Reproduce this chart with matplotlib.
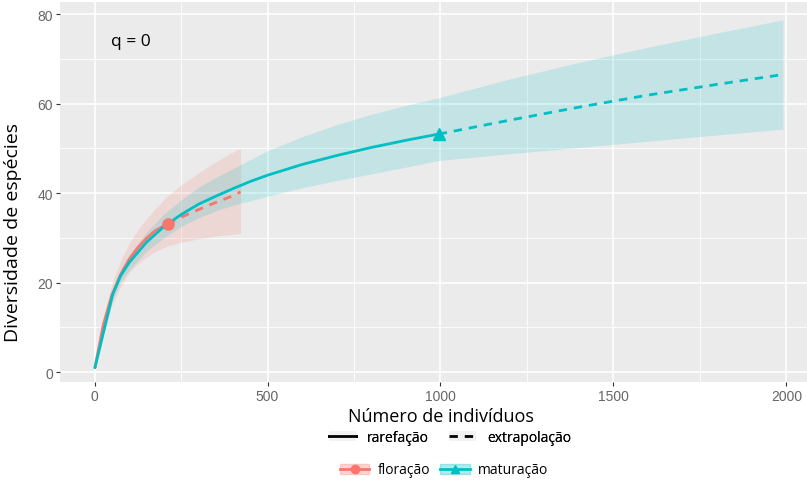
import matplotlib
matplotlib.use('Agg')
import matplotlib.pyplot as plt
from matplotlib.lines import Line2D
from matplotlib.patches import Patch

# floração: rarefaction up to the observed sample, extrapolation after it
flor_x = [1, 25, 50, 75, 100, 125, 150, 175, 211, 250, 300, 350, 400, 422]
flor_y = [1, 10.5, 17.2, 21.8, 25.2, 27.8, 29.9, 31.6, 33.1, 34.6, 36.3, 37.9, 39.4, 40.3]
flor_lo = [1, 9, 15, 19, 22.3, 24.2, 25.7, 26.9, 28.2, 29, 29.8, 30.4, 30.8, 31]
flor_hi = [1, 12.5, 19.8, 24.8, 28.8, 31.8, 34.3, 36.5, 39.4, 41.8, 44.5, 47, 49.2, 50]
flor_obs = 8  # index of observed point

# maturação
mat_x = [1, 52, 75, 100, 150, 200, 250, 300, 350, 400, 450, 500, 600, 700, 800, 900, 995,
         1200, 1400, 1600, 1800, 1990]
mat_y = [1, 17.3, 21.5, 24.5, 29, 32.5, 35.2, 37.5, 39.3, 41, 42.6, 44, 46.4, 48.4, 50.2, 51.8, 53.2,
         56.3, 59.2, 61.9, 64.3, 66.5]
mat_lo = [1, 16.1, 20.2, 22.8, 27, 30, 32.5, 34.5, 36, 37.3, 38.3, 39.3, 41.2, 42.8, 44.3, 45.8, 47.3,
          48.8, 50.2, 51.6, 53, 54.3]
mat_hi = [1, 18.5, 22.8, 26.3, 31.3, 35.3, 38.5, 41.3, 43.5, 45.5, 47.5, 49.5, 52.6, 55.3, 57.6, 59.6, 61.3,
          65.5, 69.2, 72.6, 75.8, 78.7]
mat_obs = 16

xticks = [0, 500, 1000, 1500, 2000]
yticks = [0, 20, 40, 60, 80]

red = '#F8766D'
cyan = '#00BFC4'
txt_font = ['Open Sans', 'DejaVu Sans']
tick_font = ['Liberation Sans', 'DejaVu Sans']

fig = plt.figure(figsize=(8.07, 4.81), dpi=100)
ax = fig.add_axes([60/807, 98/481, 761/807, 380/481])
ax.set_facecolor('#EBEBEB')
for s in ax.spines.values():
    s.set_visible(False)

# minor + major grid
for v in [250, 750, 1250, 1750]:
    ax.axvline(v, color='white', lw=0.6, zorder=0)
for v in [10, 30, 50, 70]:
    ax.axhline(v, color='white', lw=0.6, zorder=0)
for v in xticks:
    ax.axvline(v, color='white', lw=1.2, zorder=0)
for v in yticks:
    ax.axhline(v, color='white', lw=1.2, zorder=0)

def draw(x, y, lo, hi, k, col, mk):
    ax.fill_between(x, lo, hi, color=col, alpha=0.17, lw=0, zorder=1)
    ax.plot(x[:k+1], y[:k+1], color=col, lw=2, zorder=3, solid_capstyle='round')
    ax.plot(x[k:], y[k:], color=col, lw=2, ls=(0, (3, 2.5)), zorder=3)
    ax.plot(x[k], y[k], marker=mk, color=col, ms=8, zorder=4)

draw(flor_x, flor_y, flor_lo, flor_hi, flor_obs, red, 'o')
draw(mat_x, mat_y, mat_lo, mat_hi, mat_obs, cyan, '^')

ax.set_xlim(-100, 2100)
ax.set_ylim(-2.2, 82.7)
ax.set_xticks(xticks)
ax.set_yticks(yticks)
ax.tick_params(colors='#333333', labelcolor='#666666', labelsize=10, length=3, width=0.8, pad=2)
for lab in ax.get_xticklabels() + ax.get_yticklabels():
    lab.set_family(tick_font)

ax.text(46, 74, 'q = 0', fontsize=12.5, va='center', ha='left', family=txt_font)
ax.set_ylabel('Diversidade de espécies', fontsize=14, family=txt_font)
ax.yaxis.set_label_coords(-0.05, 0.397)
ax.set_xlabel('Número de indivíduos', fontsize=13, labelpad=3, family=txt_font)

key_bg = '#F2F2F2'
h1 = [(Patch(facecolor=key_bg, edgecolor='none'), Line2D([], [], color='black', lw=2)),
      (Patch(facecolor=key_bg, edgecolor='none'), Line2D([], [], color='black', lw=2, ls=(0, (3, 2.5))))]
leg1 = fig.legend(h1, ['rarefação', 'extrapolação'], ncol=2, frameon=False,
                  loc='center', bbox_to_anchor=(450/807, 1 - 438/481),
                  prop={'family': txt_font, 'size': 10},
                  handlelength=1.95, columnspacing=1.4, handletextpad=0.8)
fig.add_artist(leg1)

h2 = [(Patch(facecolor=red, alpha=0.3, edgecolor=red),
       Line2D([], [], color=red, lw=2, marker='o', ms=6)),
      (Patch(facecolor=cyan, alpha=0.3, edgecolor=cyan),
       Line2D([], [], color=cyan, lw=2, marker='^', ms=6))]
fig.legend(h2, ['floração', 'maturação'], ncol=2, frameon=False,
           loc='center', bbox_to_anchor=(444/807, 1 - 471/481),
           prop={'family': txt_font, 'size': 10},
           handlelength=2.15, columnspacing=0.7, handletextpad=0.6)

fig.savefig('out.png', dpi=100)
